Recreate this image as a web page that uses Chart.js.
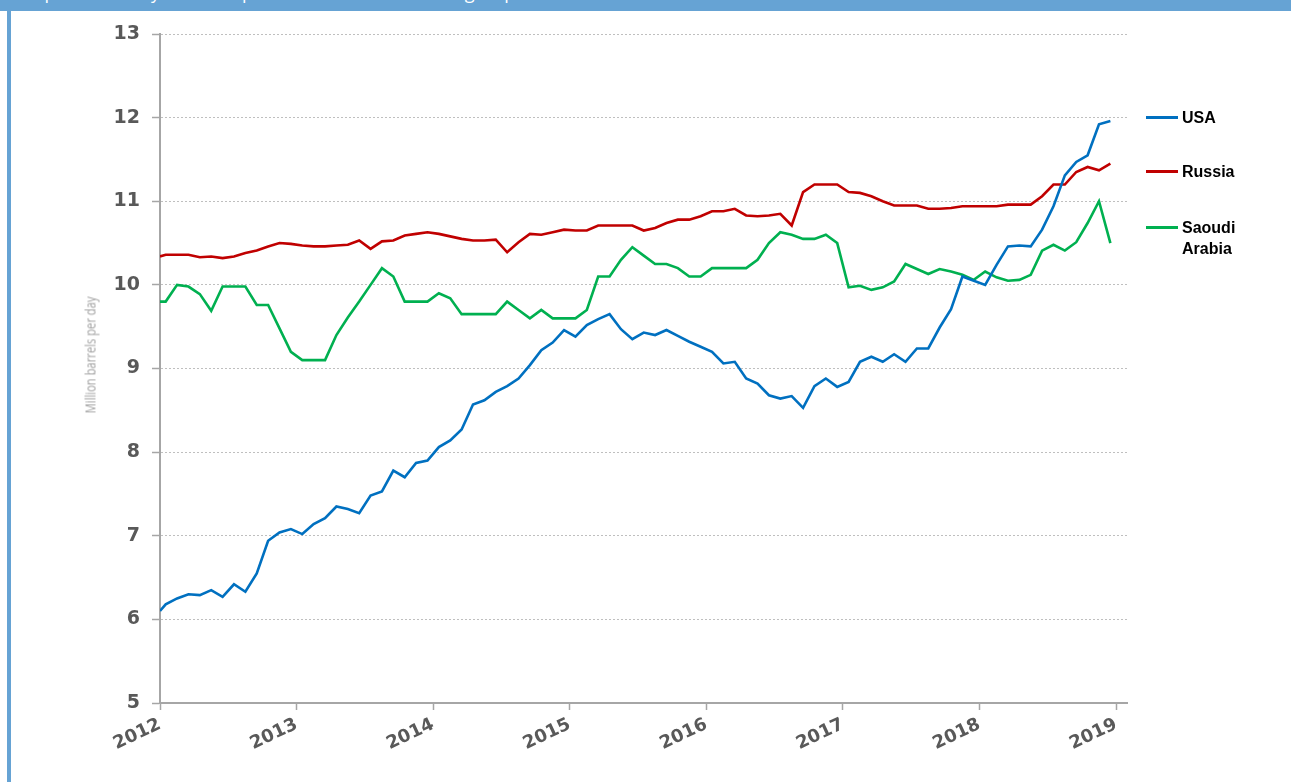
<!DOCTYPE html>
<html>
<head>
<meta charset="utf-8">
<script src="https://cdn.jsdelivr.net/npm/chart.js@4/dist/chart.umd.min.js"></script>
<style>
    html, body { margin: 0; padding: 0; background: #fff; }
    body { width: 1291px; height: 782px; position: relative; overflow: hidden; }
    .banner { position: absolute; left: 0; top: 0; width: 1291px; height: 11px; background: #66a3d4; overflow: hidden; }
    .banner span { position: absolute; left: 14px; top: -20px; color: #fff; font: 18px "Open Sans", sans-serif; white-space: nowrap; }
    .frame-left { position: absolute; left: 7px; top: 0; width: 4px; height: 782px; background: #66a3d4; }
    #chartBox { position: absolute; left: 0; top: 0; width: 1291px; height: 782px; }
    .ytitle { position: absolute; left: 90px; top: 355px; transform: translate(-50%, -50%) rotate(-90deg) scaleX(0.8); color: #a0a0a0; font: 14px "Open Sans", sans-serif; white-space: nowrap; }
    .legend { position: absolute; left: 1146px; font: bold 16px "Liberation Sans", Arial, sans-serif; color: #000; line-height: 21px; }
    .legend i { position: absolute; left: 0; width: 32px; height: 3px; top: 9px; }
    .legend span { display: block; margin-left: 36px; }
</style>
</head>
<body>
    <div class="banner"><span>Graph 1: Monthly crude oil production of the three largest producers</span></div>
    <div class="frame-left"></div>
    <div id="chartBox"><canvas id="oilChart" width="1291" height="782"></canvas></div>
    <div class="ytitle">Million barrels per day</div>

    <div class="legend" style="top:107px"><i style="background:#0070c0"></i><span>USA</span></div>
    <div class="legend" style="top:161px"><i style="background:#c00000"></i><span>Russia</span></div>
    <div class="legend" style="top:217px"><i style="background:#00b050"></i><span>Saoudi<br>Arabia</span></div>

<script>
    // monthly output, Jan 2012 .. Dec 2018 (first value sits on the 2012 line)
    const usa = [6.10, 6.18, 6.25, 6.30, 6.29, 6.35, 6.27, 6.42, 6.33, 6.55, 6.94, 7.04, 7.08,
        7.02, 7.14, 7.21, 7.35, 7.32, 7.27, 7.48, 7.53, 7.78, 7.70, 7.87, 7.90,
        8.06, 8.14, 8.27, 8.57, 8.62, 8.72, 8.79, 8.88, 9.04, 9.22, 9.31, 9.46,
        9.38, 9.52, 9.59, 9.65, 9.47, 9.35, 9.43, 9.40, 9.46, 9.39, 9.32, 9.26,
        9.20, 9.06, 9.08, 8.88, 8.82, 8.68, 8.64, 8.67, 8.53, 8.79, 8.88, 8.78,
        8.84, 9.08, 9.14, 9.08, 9.17, 9.08, 9.24, 9.24, 9.49, 9.71, 10.10, 10.05,
        10.00, 10.24, 10.46, 10.47, 10.46, 10.66, 10.94, 11.31, 11.47, 11.55, 11.92, 11.96];

    const russia = [10.34, 10.36, 10.36, 10.36, 10.33, 10.34, 10.32, 10.34, 10.38, 10.41, 10.46, 10.50, 10.49,
        10.47, 10.46, 10.46, 10.47, 10.48, 10.53, 10.43, 10.52, 10.53, 10.59, 10.61, 10.63,
        10.61, 10.58, 10.55, 10.53, 10.53, 10.54, 10.39, 10.51, 10.61, 10.60, 10.63, 10.66,
        10.65, 10.65, 10.71, 10.71, 10.71, 10.71, 10.65, 10.68, 10.74, 10.78, 10.78, 10.82,
        10.88, 10.88, 10.91, 10.83, 10.82, 10.83, 10.85, 10.71, 11.11, 11.20, 11.20, 11.20,
        11.11, 11.10, 11.06, 11.00, 10.95, 10.95, 10.95, 10.91, 10.91, 10.92, 10.94, 10.94,
        10.94, 10.94, 10.96, 10.96, 10.96, 11.06, 11.20, 11.20, 11.35, 11.41, 11.37, 11.45];

    const saudi = [9.80, 9.80, 10.00, 9.98, 9.89, 9.69, 9.98, 9.98, 9.98, 9.76, 9.76, 9.48, 9.20,
        9.10, 9.10, 9.10, 9.40, 9.61, 9.80, 10.00, 10.20, 10.10, 9.80, 9.80, 9.80,
        9.90, 9.84, 9.65, 9.65, 9.65, 9.65, 9.80, 9.70, 9.60, 9.70, 9.60, 9.60,
        9.60, 9.70, 10.10, 10.10, 10.30, 10.45, 10.35, 10.25, 10.25, 10.20, 10.10, 10.10,
        10.20, 10.20, 10.20, 10.20, 10.30, 10.50, 10.63, 10.60, 10.55, 10.55, 10.60, 10.50,
        9.97, 9.99, 9.94, 9.97, 10.04, 10.25, 10.19, 10.13, 10.19, 10.16, 10.12, 10.06,
        10.16, 10.09, 10.05, 10.06, 10.12, 10.41, 10.48, 10.41, 10.51, 10.74, 11.00, 10.50];

    const yearLabels = ['2012', '2013', '2014', '2015', '2016', '2017', '2018', '2019'];
    const yTicks = [5, 6, 7, 8, 9, 10, 11, 12, 13];

    // x position in years: first point on Jan 1, the rest mid-month
    function monthX(i) {
        return i === 0 ? 2012 : 2012 + (i - 0.5) / 12;
    }
    function toPoints(arr) {
        return arr.map((v, i) => ({ x: monthX(i), y: v }));
    }

    new Chart(document.getElementById('oilChart'), {
        type: 'line',
        data: {
            datasets: [
                { label: 'USA', data: toPoints(usa), borderColor: '#0070c0' },
                { label: 'Russia', data: toPoints(russia), borderColor: '#c00000' },
                { label: 'Saoudi Arabia', data: toPoints(saudi), borderColor: '#00b050' }
            ]
        },
        options: {
            responsive: false,
            animation: false,
            events: [],
            layout: { padding: { left: 20, top: 34, right: 164, bottom: 0 } },
            elements: {
                line: { borderWidth: 2.6, tension: 0, fill: false },
                point: { radius: 0 }
            },
            plugins: { legend: { display: false }, tooltip: { enabled: false } },
            scales: {
                x: {
                    type: 'linear',
                    min: 2012,
                    max: 2019.08,
                    afterBuildTicks: s => { s.ticks = yearLabels.map(l => ({ value: Number(l) })); },
                    afterFit: s => { s.height = 79; },
                    border: { display: true, color: '#a6a6a6', width: 2 },
                    grid: { drawOnChartArea: false, drawTicks: true, tickLength: 7, tickColor: '#a6a6a6', tickWidth: 1.5 },
                    ticks: {
                        autoSkip: false,
                        minRotation: 25,
                        maxRotation: 25,
                        padding: 4,
                        color: '#595959',
                        font: { family: '"DejaVu Sans", sans-serif', size: 18, weight: 'bold' },
                        callback: v => yearLabels[yearLabels.indexOf(String(v))] || ''
                    }
                },
                y: {
                    min: 5,
                    max: 13,
                    afterBuildTicks: s => { s.ticks = yTicks.map(v => ({ value: v })); },
                    afterFit: s => { s.width = 140; },
                    border: { display: true, color: '#a6a6a6', width: 2, dash: [2, 2] },
                    grid: { color: '#bfbfbf', lineWidth: 1, tickLength: 8, tickColor: '#a6a6a6', tickWidth: 1.5 },
                    ticks: { padding: 12, color: '#595959', font: { family: '"DejaVu Sans", sans-serif', size: 19, weight: 'bold' } }
                }
            }
        }
    });
</script>
</body>
</html>
